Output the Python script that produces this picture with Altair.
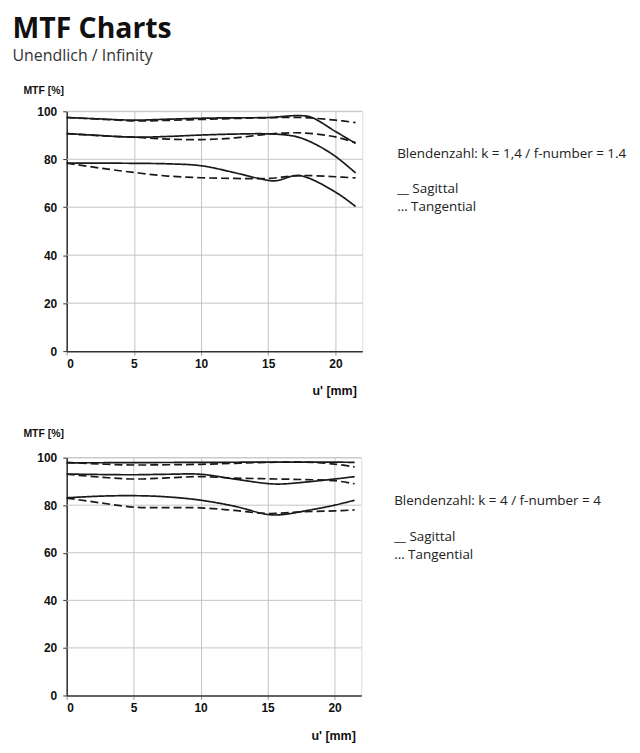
import altair as alt
import pandas as pd

# ---------------- data ----------------
# f-number 1.4
S1_14_U = [0, 2.5, 5, 7.5, 10, 12.5, 15, 17.3, 18.2, 20, 21.5]
S1_14_V = [97.4, 96.8, 96.3, 96.7, 97.1, 97.3, 97.4, 98.2, 97.5, 91.6, 86.6]
T1_14_U = [0, 2.5, 5, 7.5, 10, 12.5, 15, 17.5, 20, 21.5]
T1_14_V = [97.4, 96.7, 96.0, 96.2, 96.6, 97.0, 97.3, 97.4, 96.3, 95.3]

S2_14_U = [0, 2.5, 5, 7.5, 10, 12.5, 15, 16.5, 17.3, 18.5, 20, 21.5]
S2_14_V = [90.7, 89.9, 89.2, 89.5, 90.1, 90.5, 90.6, 90.0, 89.1, 86.3, 81.2, 74.3]
T2_14_U = [0, 2.5, 5, 7.5, 10, 12.5, 15, 17.5, 20, 21.5]
T2_14_V = [90.7, 89.8, 89.2, 88.4, 88.2, 88.9, 90.5, 91.0, 89.3, 86.9]

S3_14_U = [0, 2.5, 5, 7.5, 10, 12.5, 14.3, 15.5, 17.3, 20, 21.5]
S3_14_V = [78.4, 78.4, 78.3, 78.1, 77.3, 74.4, 72.0, 71.0, 73.2, 66.3, 60.3]
T3_14_U = [0, 2.5, 5, 7.5, 10, 12.5, 15, 17.3, 20, 21.5]
T3_14_V = [78.4, 76.3, 74.5, 73.0, 72.3, 72.0, 72.0, 73.2, 72.7, 72.2]

# f-number 4
S1_4_U = [0, 5, 10, 15, 20, 21.5]
S1_4_V = [97.8, 97.9, 98.0, 98.1, 98.1, 98.0]
T1_4_U = [0, 2.5, 5, 7.5, 10, 12.5, 15, 17.5, 20, 21.5]
T1_4_V = [98.0, 97.3, 96.9, 97.0, 97.2, 97.6, 98.0, 98.2, 97.3, 96.1]

S2_4_U = [0, 2.5, 5, 7.5, 10, 12.5, 15, 16, 18, 20, 21.5]
S2_4_V = [93.1, 92.9, 92.8, 93.0, 93.0, 91.0, 89.1, 88.9, 89.8, 91.0, 92.0]
T2_4_U = [0, 2.5, 5, 7.5, 10, 12.5, 15, 17.5, 20, 21.5]
T2_4_V = [93.0, 91.8, 91.0, 91.5, 92.0, 91.4, 91.1, 90.8, 90.3, 89.0]

S3_4_U = [0, 2.5, 5, 7.5, 10, 12.5, 15, 16, 18, 20, 21.5]
S3_4_V = [83.1, 83.8, 84.0, 83.5, 82.1, 79.6, 76.1, 76.0, 77.8, 80.0, 82.1]
T3_4_U = [0, 2.5, 5, 7.5, 10, 12.5, 15, 17.5, 20, 21.5]
T3_4_V = [83.0, 81.0, 79.2, 79.0, 78.9, 77.8, 76.5, 77.2, 77.6, 78.0]

X_TICKS = [0, 5, 10, 15, 20]
Y_TICKS = [0, 10, 20, 30, 40, 50, 60, 70, 80, 90, 100]
Y_GRID = [20, 40, 60, 80, 100]

TITLE = "MTF Charts"
SUBTITLE = "Unendlich / Infinity"
INFO_14 = "Blendenzahl: k = 1,4 / f-number = 1.4"
INFO_4 = "Blendenzahl: k = 4 / f-number = 4"
LEG_S = "__ Sagittal"
LEG_T = "\u2026 Tangential"


def make_df(entries):
    rows = []
    for name, kind, us, vs in entries:
        for u, v in zip(us, vs):
            rows.append({"series": name, "kind": kind, "u": u, "v": v})
    return pd.DataFrame(rows)


df14 = make_df([
    ("s1", "Sagittal", S1_14_U, S1_14_V), ("t1", "Tangential", T1_14_U, T1_14_V),
    ("s2", "Sagittal", S2_14_U, S2_14_V), ("t2", "Tangential", T2_14_U, T2_14_V),
    ("s3", "Sagittal", S3_14_U, S3_14_V), ("t3", "Tangential", T3_14_U, T3_14_V),
])
df4 = make_df([
    ("s1", "Sagittal", S1_4_U, S1_4_V), ("t1", "Tangential", T1_4_U, T1_4_V),
    ("s2", "Sagittal", S2_4_U, S2_4_V), ("t2", "Tangential", T2_4_U, T2_4_V),
    ("s3", "Sagittal", S3_4_U, S3_4_V), ("t3", "Tangential", T3_4_U, T3_4_V),
])

AX_FONT = "Liberation Sans"
TXT_FONT = "Open Sans"


def panel(df, info, w, h, tx, ty_title, text_dx, text_ys):
    xenc = alt.X(
        "u:Q",
        scale=alt.Scale(domain=[0, 22], nice=False, zero=False),
        axis=alt.Axis(
            values=X_TICKS, grid=True, gridColor="#c4c4c4", gridWidth=1,
            domainColor="#333333", domainWidth=1.5, tickColor="#999999",
            tickSize=4, labelFont=AX_FONT, labelFontWeight="bold",
            labelFontSize=12, labelColor="#111111", labelPadding=3,
            title="u' [mm]", titleFont=AX_FONT, titleFontWeight="bold",
            titleFontSize=12.5, titleColor="#111111", titleAnchor="end",
            titleAlign="right", titleX=w - 6, titleY=34, titleBaseline="top",
        ),
    )
    yenc = alt.Y(
        "v:Q",
        scale=alt.Scale(domain=[0, 100], nice=False),
        axis=alt.Axis(
            values=Y_TICKS, grid=False,
            labelExpr="datum.value % 20 == 0 ? datum.label : ''",
            domainColor="#333333", domainWidth=1.5, tickColor="#333333",
            tickSize=4, labelFont=AX_FONT, labelFontWeight="bold",
            labelFontSize=12, labelColor="#111111", labelPadding=6,
            title="MTF [%]", titleFont=AX_FONT, titleFontWeight="bold",
            titleFontSize=10.5, titleColor="#111111", titleAngle=0,
            titleAlign="left", titleBaseline="middle", titleX=tx, titleY=ty_title,
        ),
    )
    grid = alt.Chart(pd.DataFrame({"g": Y_GRID})).mark_rule(
        color="#c4c4c4", strokeWidth=1
    ).encode(y=alt.Y("g:Q", scale=alt.Scale(domain=[0, 100], nice=False)))

    lines = alt.Chart(df).mark_line(
        interpolate="catmull-rom", strokeWidth=1.7, color="#1a1a1a"
    ).encode(
        x=xenc, y=yenc, detail="series:N",
        strokeDash=alt.StrokeDash(
            "kind:N",
            scale=alt.Scale(domain=["Sagittal", "Tangential"], range=[[1, 0], [8, 4]]),
            legend=None,
        ),
    )

    texts = []
    for t, yy in zip([info, LEG_S, LEG_T], text_ys):
        texts.append(
            alt.Chart(pd.DataFrame({"t": [t]})).mark_text(
                align="left", baseline="middle", font=TXT_FONT, fontSize=13.5,
                color="#222222",
            ).encode(x=alt.value(text_dx), y=alt.value(yy), text="t:N")
        )
    return alt.layer(grid, lines, *texts).properties(width=w, height=h)


p1 = panel(df14, INFO_14, 297, 241, -44, -21, 332, [43, 78, 96])
p2 = panel(df4, INFO_4, 296, 239, -44, -24, 329, [44, 80, 98])

chart = alt.vconcat(p1, p2, spacing=30).properties(
    title=alt.TitleParams(
        text=TITLE, subtitle=SUBTITLE, anchor="start", font=TXT_FONT,
        fontSize=28.5, fontWeight="bold", color="#111111",
        subtitleFont=TXT_FONT, subtitleFontSize=16, subtitleColor="#333333",
        subtitlePadding=5, offset=21, dx=-10,
    ),
    padding={"left": 4, "top": 5, "right": 5, "bottom": 5},
).configure_view(stroke="#999999", strokeWidth=1).configure(background="white")

chart.save("out.html", embed_options={"renderer": "svg", "actions": False})
